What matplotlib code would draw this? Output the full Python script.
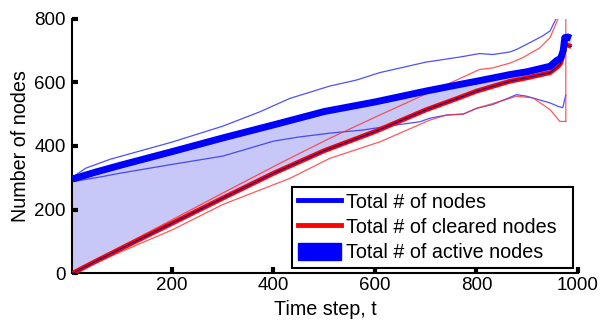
import numpy as np
import matplotlib
matplotlib.use('Agg')
import matplotlib.pyplot as plt
from matplotlib.lines import Line2D
from matplotlib.patches import Patch

plt.rcParams['font.family'] = ['Liberation Sans', 'DejaVu Sans']

# mean total number of nodes (thick blue)
t_tot = [4, 50, 100, 200, 300, 400, 500, 600, 700, 767, 800, 866, 900, 945, 958, 966, 971, 974, 980, 986]
tot_mean = [296, 318, 340, 382, 425, 466, 508, 538, 572, 593, 603, 624, 633, 650, 668, 675, 700, 740, 742, 738]

# mean number of cleared nodes (thick red)
t_clr = [4, 50, 100, 200, 300, 400, 500, 600, 700, 767, 800, 866, 900, 945, 961, 966, 971, 974, 980, 987]
clr_mean = [0, 38, 78, 157, 236, 314, 385, 445, 513, 552, 572, 603, 614, 630, 650, 660, 690, 719, 716, 712]

# total nodes +/- spread (thin blue)
t_tot_hi = [4, 30, 78, 200, 300, 373, 432, 511, 564, 609, 700, 767, 806, 832, 866, 879, 899, 930, 945, 958, 965]
tot_hi = [302, 330, 358, 412, 462, 507, 549, 588, 607, 630, 663, 679, 690, 687, 695, 703, 719, 745, 761, 803, 830]
t_tot_lo = [4, 50, 100, 200, 300, 400, 450, 511, 576, 643, 689, 708, 741, 774, 800, 832, 879, 899, 945, 961, 970, 976]
tot_lo = [288, 300, 315, 342, 368, 415, 428, 440, 450, 466, 476, 487, 497, 500, 518, 530, 561, 556, 535, 524, 520, 560]

# cleared nodes +/- spread (thin red)
t_clr_hi = [4, 100, 200, 300, 400, 432, 511, 600, 700, 761, 806, 832, 866, 891, 925, 945, 961, 966, 976, 976]
clr_hi = [0, 84, 168, 252, 335, 361, 424, 490, 563, 607, 640, 645, 660, 677, 708, 740, 800, 830, 830, 477]
t_clr_lo = [4, 100, 200, 300, 432, 511, 610, 708, 741, 774, 800, 832, 879, 911, 945, 964, 976]
clr_lo = [0, 68, 136, 216, 298, 361, 413, 481, 497, 500, 518, 533, 556, 551, 514, 477, 477]

fig = plt.figure(figsize=(6.01, 3.25), dpi=100)
ax = fig.add_axes([0.1206, 0.159, 0.8411, 0.784])

# active nodes = area between total and cleared
t_fill = np.union1d(t_tot, t_clr)
ax.fill_between(t_fill, np.interp(t_fill, t_clr, clr_mean), np.interp(t_fill, t_tot, tot_mean),
                facecolor='#c8c8f8', edgecolor='none', zorder=1)

ax.plot(t_tot_hi, tot_hi, color='#3030ff', lw=0.9, alpha=0.85, zorder=2)
ax.plot(t_tot_lo, tot_lo, color='#3030ff', lw=0.9, alpha=0.85, zorder=2)
ax.plot(t_clr_hi, clr_hi, color='#ff3030', lw=0.9, alpha=0.8, zorder=2)
ax.plot(t_clr_lo, clr_lo, color='#ff3030', lw=0.9, alpha=0.8, zorder=2)

ax.plot(t_clr, clr_mean, color='red', lw=3.5, zorder=3, solid_capstyle='butt')
ax.plot(t_clr, clr_mean, color='#0000a0', lw=0.8, zorder=4)
ax.plot(t_tot, tot_mean, color='blue', lw=5, zorder=5, solid_capstyle='butt')

ax.set_xlim(4, 1000)
ax.set_ylim(0, 800)
ax.set_xticks([200, 400, 600, 800, 1000])
ax.set_yticks([0, 200, 400, 600, 800])
for s in ['top', 'right']:
    ax.spines[s].set_visible(False)
for s in ['left', 'bottom']:
    ax.spines[s].set_linewidth(1.5)
ax.tick_params(direction='in', length=4, width=3, labelsize=13.5, pad=3)
ax.tick_params(axis='y', pad=5)
ax.set_xlabel('Time step, t', fontsize=14.2, labelpad=4)
ax.set_ylabel('Number of nodes', fontsize=14.2, labelpad=3)

handles = [Line2D([], [], color='blue', lw=3.5),
           Line2D([], [], color='red', lw=3.5),
           Patch(facecolor='blue', edgecolor='blue')]
labels = ['Total # of nodes', 'Total # of cleared nodes', 'Total # of active nodes']
leg = ax.legend(handles, labels, loc='lower left', bbox_to_anchor=(0.434, 0.02, 0.556, 0.3),
                mode='expand', borderaxespad=0,
                fontsize=14.2, fancybox=False, framealpha=1, edgecolor='black',
                handlelength=2.2, handleheight=0.95, handletextpad=0.25, labelspacing=0.3,
                borderpad=0.3)
leg.get_frame().set_linewidth(1.5)
leg.set_zorder(10)

plt.savefig('out.png', dpi=100)
